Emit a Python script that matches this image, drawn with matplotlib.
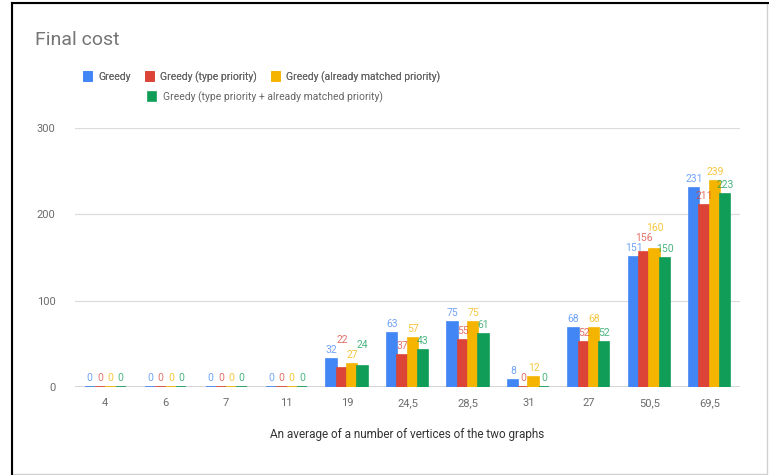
import numpy as np
import matplotlib.pyplot as plt
from matplotlib.patches import Rectangle

plt.rcParams['font.family'] = ['Roboto', 'DejaVu Sans']

# dados
categorias = ['4', '6', '7', '11', '19', '24,5', '28,5', '31', '27', '50,5', '69,5']
greedy = [0, 0, 0, 0, 32, 63, 75, 8, 68, 151, 231]
greedy_tipo = [0, 0, 0, 0, 22, 37, 55, 0, 52, 156, 211]
greedy_ja = [0, 0, 0, 0, 27, 57, 75, 12, 68, 160, 239]
greedy_ambos = [0, 0, 0, 0, 24, 43, 61, 0, 52, 150, 223]

nomes = ['Greedy', 'Greedy (type priority)', 'Greedy (already matched priority)',
         'Greedy (type priority + already matched priority)']
cores = ['#4285F4', '#DB4437', '#F4B400', '#0F9D58']
series = [greedy, greedy_tipo, greedy_ja, greedy_ambos]

fig = plt.figure(figsize=(7.69, 4.75), dpi=100)
ax = fig.add_axes([75/769, 1 - 387/475, 665/769, 259/475])

ax.set_xlim(-0.5, len(categorias) - 0.5)
ax.set_ylim(0, 300)

x = np.arange(len(categorias))
largura = 0.17
# escala aproximada em pixels, usada so para evitar rotulos sobrepostos
px_x = 665 / len(categorias)
px_y = 259 / 300
alt_rotulo = 10 / px_y

barras = []
for k, (vals, cor) in enumerate(zip(series, cores)):
    pos = x + (k - 1.5) * largura
    b = ax.bar(pos, vals, largura, color=cor, edgecolor=cor, linewidth=1.2, zorder=3)
    barras.append(b)

# rotulos: empurra para cima quando batem no rotulo vizinho
for g in range(len(categorias)):
    colocados = []
    for k, (vals, cor) in enumerate(zip(series, cores)):
        xi = x[g] + (k - 1.5) * largura
        v = vals[g]
        texto = str(v)
        larg = len(texto) * 5.2 / px_x
        y = v + 4 / px_y
        for _ in range(10):
            bateu = False
            for (xo, yo, lo) in colocados:
                if abs(xi - xo) < (larg + lo) / 2 and yo - alt_rotulo + 0.01 < y < yo + alt_rotulo - 0.01:
                    y = yo + alt_rotulo
                    bateu = True
            if not bateu:
                break
        colocados.append((xi, y, larg))
        ax.text(xi, y, texto, ha='center', va='bottom', fontsize=7.5,
                color=cor, alpha=0.75, zorder=4)

ax.set_yticks([0, 100, 200, 300])
ax.set_xticks(x)
ax.set_xticklabels(categorias)
ax.tick_params(axis='both', length=0, labelsize=8, labelcolor='#6b6b6b')
ax.tick_params(axis='x', pad=8)
ax.tick_params(axis='y', pad=14)
for s in ax.spines.values():
    s.set_visible(False)
ax.grid(axis='y', color='#dcdcdc', linewidth=0.9, zorder=0)
ax.axhline(0, color='#444444', linewidth=1, zorder=2)
ax.set_xlabel('An average of a number of vertices of the two graphs',
              fontsize=8.5, color='#333333', labelpad=14)

fig.text(35/769, 1 - 40/475, 'Final cost', fontsize=14, color='#757575', va='center')

# legenda em duas linhas
leg1 = fig.legend(barras[:3], nomes[:3], loc='center left',
                  bbox_to_anchor=(84/769, 1 - 77/475), ncol=3, frameon=False,
                  fontsize=7.5, handlelength=0.8, handleheight=0.9,
                  handletextpad=0.6, columnspacing=1.4, labelcolor='#666666',
                  borderaxespad=0, borderpad=0)
fig.legend(barras[3:], nomes[3:], loc='center left',
           bbox_to_anchor=(148/769, 1 - 97/475), frameon=False,
           fontsize=7.5, handlelength=0.8, handleheight=0.9,
           handletextpad=0.6, labelcolor='#666666', borderaxespad=0, borderpad=0)
fig.add_artist(leg1)

# moldura do print
fig.add_artist(Rectangle((12/769, 1/475), 755/769, 471/475, transform=fig.transFigure,
                         fill=False, edgecolor='#d0d0d0', linewidth=1))
fig.add_artist(plt.Line2D([12/769, 12/769], [1/475, 1 - 3/475], transform=fig.transFigure,
                          color='black', linewidth=1.5))
fig.add_artist(plt.Line2D([12/769, 1], [1 - 3/475, 1 - 3/475], transform=fig.transFigure,
                          color='black', linewidth=1.5))

fig.savefig('out.png', dpi=100)
